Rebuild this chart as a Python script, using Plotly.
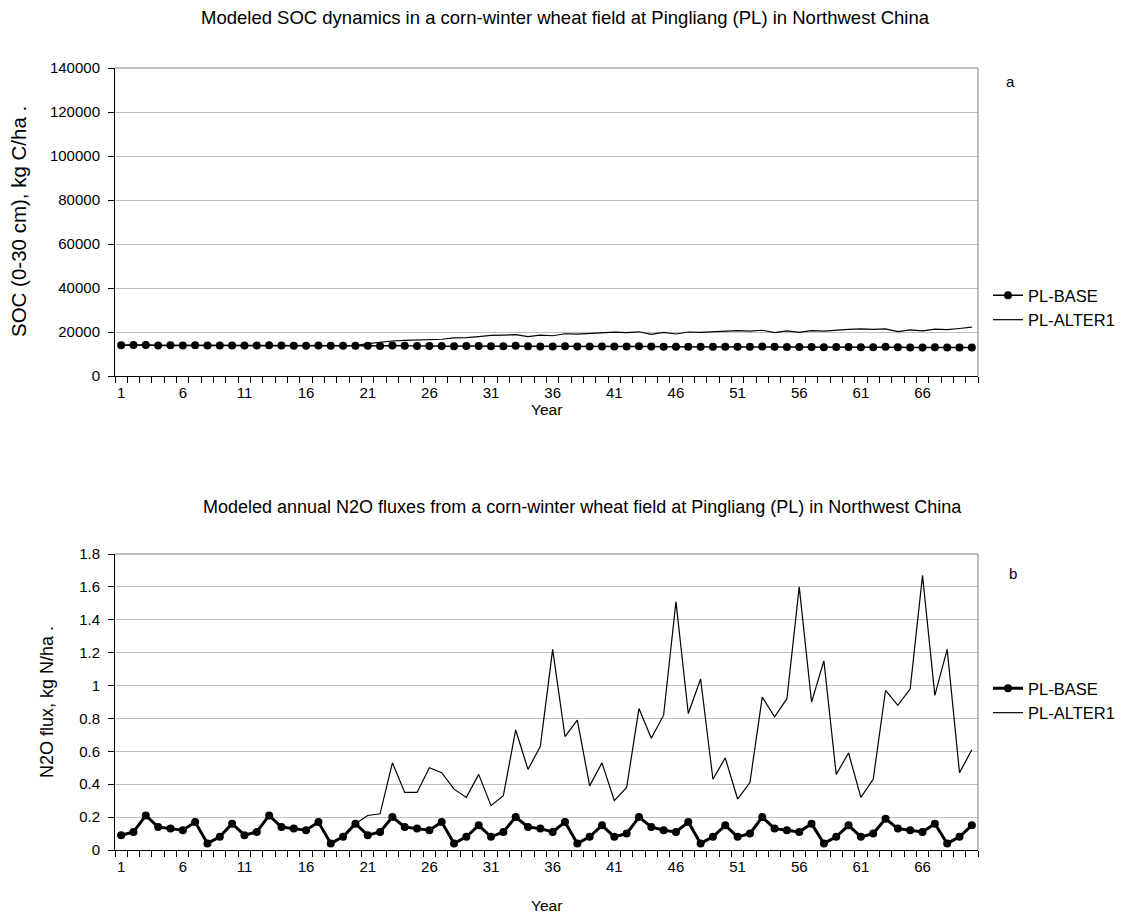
import plotly.graph_objects as go

years = list(range(1, 71))
tick_years = list(range(1, 70, 5))

soc_base = [14000, 14100, 14100, 13900, 13950, 13900, 13950, 13850, 13900, 13900,
            13850, 13850, 14000, 13900, 13800, 13800, 13850, 13750, 13800, 13800,
            13700, 13650, 13900, 13700, 13600, 13600, 13650, 13550, 13600, 13600,
            13550, 13550, 13700, 13550, 13450, 13450, 13500, 13400, 13450, 13450,
            13400, 13400, 13550, 13400, 13300, 13300, 13350, 13250, 13300, 13300,
            13250, 13250, 13400, 13250, 13150, 13150, 13200, 13100, 13150, 13150,
            13100, 13100, 13250, 13100, 13000, 13000, 13050, 12950, 13000, 13000]

soc_alter1 = [14000, 14100, 14100, 13900, 13950, 13900, 13950, 13850, 13900, 13900,
              13850, 13850, 14000, 13900, 13800, 13800, 13850, 13750, 13800, 13800,
              14700, 15400, 15900, 16200, 16400, 16800, 16700, 17300, 17400, 17900,
              18500, 18600, 18800, 17900, 18600, 18300, 19200, 19000, 19300, 19800,
              19900, 19700, 20100, 18900, 19800, 19100, 20000, 19800, 20100, 20500,
              20600, 20400, 20800, 19700, 20500, 19800, 20600, 20400, 20900, 21200,
              21400, 21200, 21400, 20200, 21000, 20500, 21300, 21100, 21600, 22200]

n2o_base = [0.09, 0.11, 0.21, 0.14, 0.13, 0.12, 0.17, 0.04, 0.08, 0.16,
            0.09, 0.11, 0.21, 0.14, 0.13, 0.12, 0.17, 0.04, 0.08, 0.16,
            0.09, 0.11, 0.20, 0.14, 0.13, 0.12, 0.17, 0.04, 0.08, 0.15,
            0.08, 0.11, 0.20, 0.14, 0.13, 0.11, 0.17, 0.04, 0.08, 0.15,
            0.08, 0.10, 0.20, 0.14, 0.12, 0.11, 0.17, 0.04, 0.08, 0.15,
            0.08, 0.10, 0.20, 0.13, 0.12, 0.11, 0.16, 0.04, 0.08, 0.15,
            0.08, 0.10, 0.19, 0.13, 0.12, 0.11, 0.16, 0.04, 0.08, 0.15]

n2o_alter1 = [0.09, 0.11, 0.21, 0.14, 0.13, 0.12, 0.17, 0.04, 0.08, 0.16,
              0.09, 0.11, 0.21, 0.14, 0.13, 0.12, 0.17, 0.04, 0.08, 0.16,
              0.21, 0.22, 0.53, 0.35, 0.35, 0.50, 0.47, 0.37, 0.32, 0.46,
              0.27, 0.33, 0.73, 0.49, 0.63, 1.22, 0.69, 0.79, 0.39, 0.53,
              0.30, 0.38, 0.86, 0.68, 0.82, 1.51, 0.83, 1.04, 0.43, 0.56,
              0.31, 0.41, 0.93, 0.81, 0.92, 1.60, 0.90, 1.15, 0.46, 0.59,
              0.32, 0.43, 0.97, 0.88, 0.98, 1.67, 0.94, 1.22, 0.47, 0.61]

W, H = 1132, 917
FONT = "Arial, Liberation Sans, sans-serif"


def px_x(p):
    return p / W


def px_y(p):
    return 1 - p / H


fig = go.Figure()

# Top chart
fig.add_trace(go.Scatter(x=years, y=soc_base, name="PL-BASE", mode="lines+markers",
                         line=dict(color="black", width=1.5),
                         marker=dict(color="black", size=8),
                         xaxis="x", yaxis="y", legend="legend"))
fig.add_trace(go.Scatter(x=years, y=soc_alter1, name="PL-ALTER1", mode="lines",
                         line=dict(color="black", width=1.2),
                         xaxis="x", yaxis="y", legend="legend"))
# Bottom chart
fig.add_trace(go.Scatter(x=years, y=n2o_base, name="PL-BASE", mode="lines+markers",
                         line=dict(color="black", width=3),
                         marker=dict(color="black", size=8),
                         xaxis="x2", yaxis="y2", legend="legend2"))
fig.add_trace(go.Scatter(x=years, y=n2o_alter1, name="PL-ALTER1", mode="lines",
                         line=dict(color="black", width=1.2),
                         xaxis="x2", yaxis="y2", legend="legend2"))

xdom = [px_x(115), px_x(978)]
common_x = dict(
    domain=xdom, range=[0.5, 70.5], tickmode="array", tickvals=tick_years,
    ticktext=[str(v) for v in tick_years], automargin=False,
    showline=True, linecolor="black", linewidth=1,
    ticks="outside", ticklen=3, tickcolor="rgba(0,0,0,0)",
    minor=dict(ticks="outside", ticklen=6, tickcolor="black", tick0=0.5, dtick=1, showgrid=False),
    showgrid=False, zeroline=False, tickfont=dict(size=15, color="black", family=FONT),
)
common_y = dict(
    showline=True, linecolor="black", linewidth=1, automargin=False,
    ticks="outside", ticklen=6, tickcolor="black", ticklabelstandoff=5,
    showgrid=True, gridcolor="#c0c0c0", gridwidth=1, zeroline=False,
    tickfont=dict(size=15, color="black", family=FONT),
)

fig.update_layout(
    template="none",
    width=W, height=H, autosize=False,
    margin=dict(l=0, r=0, t=0, b=0, pad=0),
    paper_bgcolor="white", plot_bgcolor="white",
    font=dict(family=FONT, color="black", size=15),
    xaxis=dict(**common_x, anchor="y"),
    yaxis=dict(**common_y, domain=[px_y(376), px_y(68)], range=[0, 140000],
               dtick=20000, tickformat="d", anchor="x"),
    xaxis2=dict(**common_x, anchor="y2"),
    yaxis2=dict(**common_y, domain=[px_y(850), px_y(554)], range=[0, 1.8],
                dtick=0.2, anchor="x2"),
    legend=dict(x=px_x(988), y=px_y(278), xanchor="left", yanchor="top",
                bgcolor="rgba(0,0,0,0)", font=dict(size=16.5, family=FONT),
                tracegroupgap=0, itemwidth=30),
    legend2=dict(x=px_x(988), y=px_y(671), xanchor="left", yanchor="top",
                 bgcolor="rgba(0,0,0,0)", font=dict(size=16.5, family=FONT),
                 tracegroupgap=0, itemwidth=30),
    showlegend=True,
)

# Plot-area frame: gray top and right edges
for xr, yr in (("x domain", "y domain"), ("x2 domain", "y2 domain")):
    fig.add_shape(type="line", xref=xr, yref=yr, x0=0, x1=1, y0=1, y1=1,
                  line=dict(color="#808080", width=1), layer="above")
    fig.add_shape(type="line", xref=xr, yref=yr, x0=1, x1=1, y0=0, y1=1,
                  line=dict(color="#808080", width=1), layer="above")

annots = [
    ("Modeled SOC dynamics in a corn-winter wheat field at Pingliang (PL) in Northwest China", 565, 18, 18.5, 0),
    ("Modeled annual N2O fluxes from a corn-winter wheat field at Pingliang (PL) in Northwest China", 582, 507, 18, 0),
    ("Year", 546, 409, 15.5, 0),
    ("Year", 546, 905, 15.5, 0),
    ("SOC (0-30 cm), kg C/ha .", 18, 222, 20.5, -90),
    ("N2O flux, kg N/ha .", 47, 702, 18, -90),
    ("a", 1010, 82, 15, 0),
    ("b", 1013, 573, 15, 0),
]
for text, ax_, ay_, size, ang in annots:
    fig.add_annotation(text=text, xref="paper", yref="paper", x=px_x(ax_), y=px_y(ay_),
                       xanchor="center", yanchor="middle", showarrow=False, textangle=ang,
                       font=dict(size=size, family=FONT, color="black"))

fig.write_html("out.html", config={"displayModeBar": False},
               post_script="document.body.style.margin='0';")
